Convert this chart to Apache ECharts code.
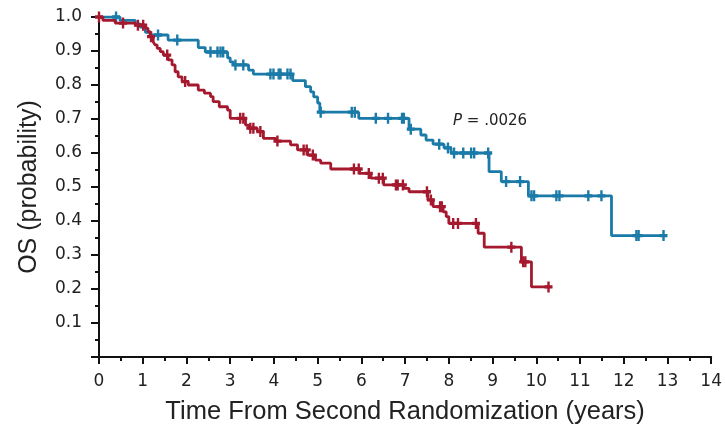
<!DOCTYPE html>
<html>
<head>
<meta charset="utf-8">
<title>OS by arm</title>
<script src="https://cdn.jsdelivr.net/npm/echarts@6/dist/echarts.min.js"></script>
<style>
    html, body { margin: 0; padding: 0; background: #fff; }
    #main { width: 725px; height: 430px; }
</style>
</head>
<body>
<div id="main"></div>
<script>
// Kaplan-Meier steps (time in years, survival probability)
var blueTimes = [0, 0.48, 0.83, 0.94, 1.01, 1.06, 1.17, 1.58, 2.27, 2.43, 2.94, 3.00, 3.07, 3.42, 3.53,
    4.43, 4.72, 4.84, 4.91, 5.00, 5.05, 5.94, 7.09, 7.36, 7.48, 7.64, 7.89, 8.05, 8.92, 9.20, 9.82, 11.72];
var blueSurv = [1.0, 0.99, 0.98, 0.97, 0.965, 0.955, 0.947, 0.932, 0.91, 0.897, 0.88, 0.868, 0.859, 0.844, 0.832,
    0.813, 0.795, 0.78, 0.765, 0.747, 0.72, 0.702, 0.67, 0.653, 0.638, 0.626, 0.615, 0.6, 0.545, 0.516, 0.474, 0.357];
var blueCensor = [0.39, 1.35, 1.79, 2.55, 2.71, 2.78, 2.84, 3.12, 3.30, 3.92, 3.99, 4.11, 4.15, 4.31, 4.38,
    5.07, 5.78, 5.85, 6.33, 6.61, 6.93, 6.97, 7.13, 7.78, 7.98, 8.12, 8.33, 8.51, 8.58, 8.90, 9.31, 9.63,
    9.89, 9.95, 10.46, 10.53, 11.19, 11.49, 12.29, 12.34, 12.91];
var blueEnd = 12.98;

var redTimes = [0, 0.09, 0.37, 0.83, 1.06, 1.12, 1.17, 1.24, 1.28, 1.33, 1.40, 1.47, 1.58, 1.67, 1.74, 1.81,
    1.90, 2.04, 2.27, 2.41, 2.55, 2.61, 2.75, 2.94, 3.00, 3.35, 3.42, 3.62, 3.76, 4.04, 4.38, 4.54, 4.77,
    4.95, 5.07, 5.30, 5.96, 6.22, 6.51, 6.97, 7.09, 7.52, 7.64, 7.87, 7.94, 8.00, 8.67, 8.81, 9.66, 9.89];
var redSurv = [1.0, 0.99, 0.982, 0.976, 0.967, 0.957, 0.942, 0.927, 0.918, 0.908, 0.898, 0.888, 0.874, 0.859, 0.839, 0.824,
    0.81, 0.8, 0.785, 0.776, 0.766, 0.751, 0.736, 0.726, 0.702, 0.682, 0.673, 0.663, 0.643, 0.635, 0.624, 0.609, 0.594,
    0.579, 0.57, 0.553, 0.54, 0.526, 0.506, 0.496, 0.486, 0.462, 0.442, 0.427, 0.413, 0.393, 0.364, 0.323, 0.28, 0.206];
var redCensor = [0.0, 0.55, 0.89, 1.01, 1.19, 1.56, 1.97, 3.23, 3.30, 3.46, 3.53, 3.69, 4.08, 4.68, 4.75, 4.89,
    5.83, 5.94, 6.17, 6.40, 6.49, 6.79, 6.83, 6.95, 7.50, 7.59, 7.80, 7.84, 8.10, 8.21, 8.62, 9.43, 9.70, 9.75, 10.28];
var redEnd = 10.32;

var xTicks = [0, 1, 2, 3, 4, 5, 6, 7, 8, 9, 10, 11, 12, 13, 14];
var pLabel = '.0026';

var blueColor = '#1a7aa8';
var redColor = '#a5192f';
var textColor = '#222';
var tickFont = 'DejaVu Sans';
var titleFont = 'Liberation Sans';
var plus = 'path://M3.5,0H6.5V3.5H10V6.5H6.5V10H3.5V6.5H0V3.5H3.5Z';

function stepData(times, surv, end) {
    var res = [];
    for (var i = 0; i < times.length; i++) res.push([times[i], surv[i]]);
    res.push([end, surv[surv.length - 1]]);
    return res;
}

// survival at time t = value of the last step at or before t
function censorData(times, surv, cens) {
    var res = [];
    for (var i = 0; i < cens.length; i++) {
        var s = surv[0];
        for (var j = 0; j < times.length; j++) {
            if (times[j] <= cens[i]) s = surv[j];
        }
        res.push([cens[i], s]);
    }
    return res;
}

var chart = echarts.init(document.getElementById('main'));

var option = {
    animation: false,
    backgroundColor: '#fff',
    grid: { left: 99, right: 13, top: 17, bottom: 73 },
    xAxis: {
        type: 'value',
        min: 0,
        max: 14,
        interval: 1,
        name: 'Time From Second Randomization (years)',
        nameLocation: 'middle',
        nameGap: 42,
        nameTextStyle: { fontFamily: titleFont, fontSize: 25.5, color: textColor },
        axisLine: { lineStyle: { color: '#111', width: 2 } },
        axisTick: { length: 7, lineStyle: { color: '#111', width: 2 } },
        minorTick: { show: true, splitNumber: 2, length: 4, lineStyle: { color: '#111', width: 2 } },
        splitLine: { show: false },
        axisLabel: {
            margin: 16,
            fontFamily: tickFont,
            fontSize: 17,
            color: textColor,
            formatter: function (v) { return xTicks.indexOf(v) >= 0 ? String(v) : ''; }
        }
    },
    yAxis: {
        type: 'value',
        min: 0,
        max: 1,
        interval: 0.1,
        name: 'OS (probability)',
        nameLocation: 'middle',
        nameGap: 57,
        nameTextStyle: { fontFamily: titleFont, fontSize: 25, color: textColor },
        axisLine: { show: true, lineStyle: { color: '#111', width: 2 } },
        axisTick: { show: true, length: 8, lineStyle: { color: '#111', width: 2 } },
        minorTick: { show: true, splitNumber: 2, length: 4, lineStyle: { color: '#111', width: 2 } },
        splitLine: { show: false },
        axisLabel: {
            margin: 17,
            fontFamily: tickFont,
            fontSize: 17,
            color: textColor,
            formatter: function (v) { return v < 0.05 ? '' : v.toFixed(1); }
        }
    },
    graphic: [{
        type: 'text',
        left: 453,
        top: 114,
        style: {
            text: '{i|P} = ' + pLabel,
            rich: { i: { fontStyle: 'italic', fontFamily: tickFont, fontSize: 15, fill: textColor } },
            fontFamily: tickFont,
            fontSize: 15,
            fill: textColor
        }
    }],
    series: [{
        type: 'line',
        step: 'end',
        showSymbol: false,
        data: stepData(blueTimes, blueSurv, blueEnd),
        lineStyle: { color: blueColor, width: 2.8 },
        itemStyle: { color: blueColor },
        z: 2
    }, {
        type: 'scatter',
        symbol: plus,
        symbolSize: [8, 11],
        symbolKeepAspect: false,
        data: censorData(blueTimes, blueSurv, blueCensor),
        itemStyle: { color: blueColor, opacity: 1 },
        z: 3
    }, {
        type: 'line',
        step: 'end',
        showSymbol: false,
        data: stepData(redTimes, redSurv, redEnd),
        lineStyle: { color: redColor, width: 2.8 },
        itemStyle: { color: redColor },
        z: 4
    }, {
        type: 'scatter',
        symbol: plus,
        symbolSize: [8, 11],
        symbolKeepAspect: false,
        data: censorData(redTimes, redSurv, redCensor),
        itemStyle: { color: redColor, opacity: 1 },
        z: 5
    }]
};

chart.setOption(option);
</script>
</body>
</html>
